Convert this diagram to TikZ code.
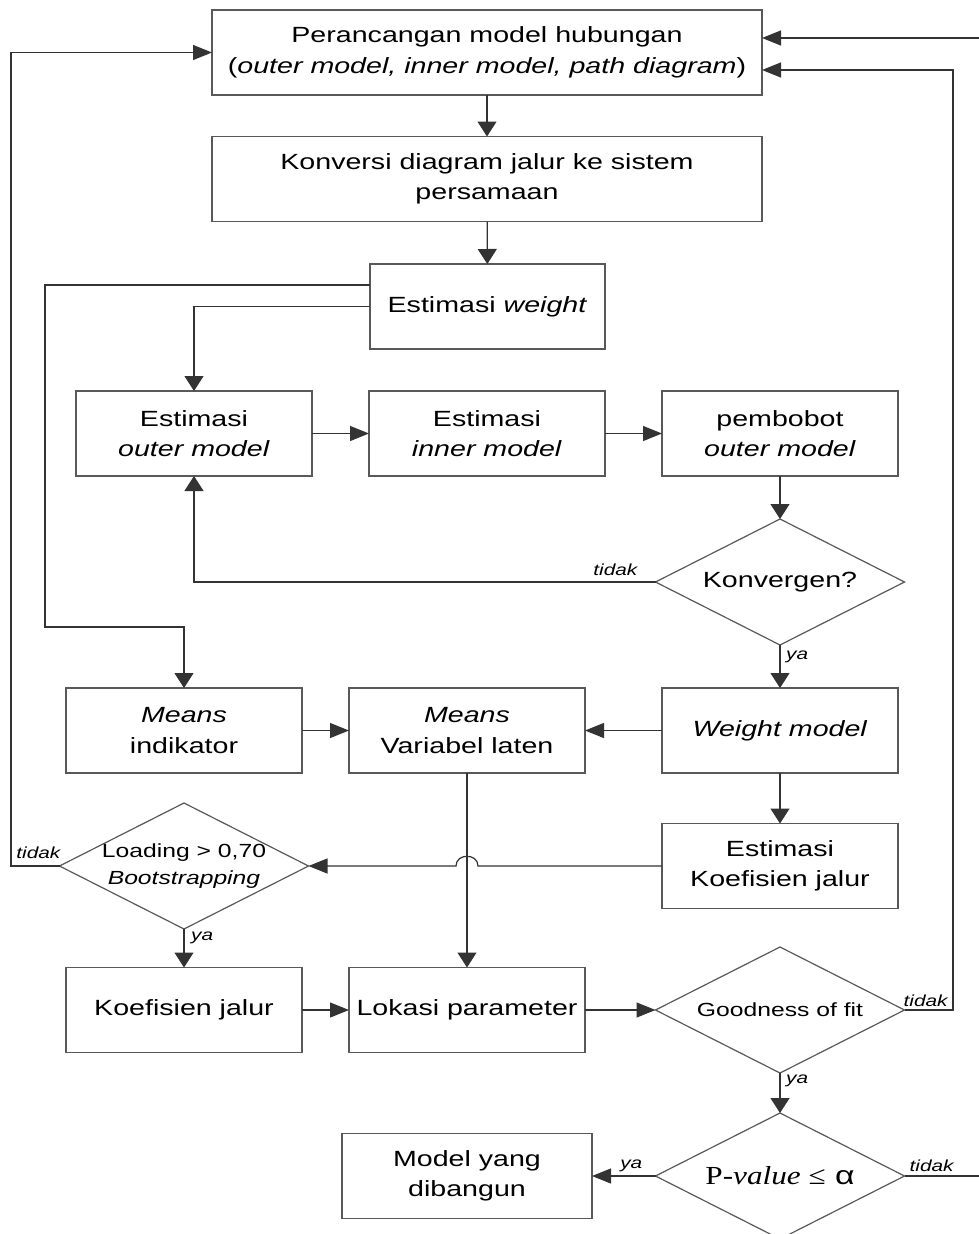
\documentclass[tikz,border=0pt]{standalone}
\usepackage{fontspec}
\setmainfont{Liberation Sans}[FakeStretch=1.3]
\newfontfamily\serifp{Liberation Serif}[FakeStretch=1.2]
\usetikzlibrary{arrows.meta,shapes.geometric}
\newcommand\myfs{\fontsize{22}{30.5}\selectfont}
\newcommand\mydfs{\fontsize{19}{27}\selectfont}
\newcommand\mypfs{\fontsize{26}{30}\selectfont}
\newcommand\mylf{\fontsize{16}{18}\selectfont\itshape}
\begin{document}
\begin{tikzpicture}[x=1pt,y=-1pt,
  conn/.style={draw=black!80, line width=1.2pt},
  va/.style={conn, -{Triangle[length=15pt,width=19pt]}},
  ha/.style={conn, -{Triangle[length=19pt,width=15pt]}},
  box/.style={draw=black!65, line width=1.2pt, minimum width=236pt, minimum height=85pt, inner sep=0pt, outer sep=0pt, align=center, font=\myfs},
  dia/.style={draw=black!65, line width=1.2pt, shape=diamond, minimum width=249pt, minimum height=126pt, inner sep=0pt, outer sep=0pt},
  lab/.style={font=\mylf, inner sep=1pt}
]
\useasboundingbox (0,0) rectangle (979,1234);
\clip (0,0) rectangle (979,1234);
\fill[white] (0,0) rectangle (979,1234);
% nodes
\node[box, minimum width=550pt] (b1) at (487,52.5) {Perancangan model hubungan\\(\textit{outer model, inner model, path diagram})};
\node[box, minimum width=550pt] (b2) at (487,179) {Konversi diagram jalur ke sistem\\persamaan};
\node[box, minimum width=235pt] (b3) at (487.5,306.5) {Estimasi \textit{weight}};
\node[box] (bA) at (194,433.5) {Estimasi\\\textit{outer model}};
\node[box] (bB) at (487,433.5) {Estimasi\\\textit{inner model}};
\node[box] (bC) at (780,433.5) {pembobot\\\textit{outer model}};
\node[dia, label={[font=\myfs]center:{Konvergen?}}] (dK) at (780,582) {};
\node[box] (bMI) at (184,730.5) {\textit{Means}\\indikator};
\node[box] (bMV) at (467,730.5) {\textit{Means}\\Variabel laten};
\node[box] (bW) at (780,730.5) {\textit{Weight model}};
\node[box] (bEK) at (780,866) {Estimasi\\Koefisien jalur};
\node[dia, label={[font=\mydfs,align=center]center:{Loading > 0,70\\\textit{Bootstrapping}}}] (dL) at (184,866) {};
\node[box] (bKJ) at (184,1010) {Koefisien jalur};
\node[box] (bLP) at (467,1010) {Lokasi parameter};
\node[dia, label={[font=\mydfs]center:{Goodness of fit}}] (dG) at (780,1010) {};
\node[dia, label={[font=\mypfs]center:{{\serifp P-\textit{value} ≤} α}}] (dP) at (780,1176) {};
\node[box, minimum width=250pt] (bM) at (467,1176) {Model yang\\dibangun};
% connectors
\draw[va] (b1) -- (b2);
\draw[va] (b2) -- (b3);
\draw[va] ([yshift=21.5pt]b3.west) -| (45,627) -| (bMI.north);
\draw[va] (b3.west) -| (bA.north);
\draw[ha] (bA) -- (bB);
\draw[ha] (bB) -- (bC);
\draw[va] (bC.south) -- (dK.north);
\draw[va] (dK.west) -| (bA.south);
\draw[va] (dK.south) -- (bW.north);
\draw[ha] (bMI) -- (bMV);
\draw[ha] (bW) -- (bMV);
\draw[va] (bMV) -- (bLP);
\draw[va] (bW) -- (bEK);
\coordinate (hop) at (bMV.south |- bEK.west);
\draw[ha] (bEK.west) -- ([xshift=11pt]hop) .. controls ([xshift=11pt,yshift=13pt]hop) and ([xshift=-11pt,yshift=13pt]hop) .. ([xshift=-11pt]hop) -- (dL.east);
\draw[ha] (dL.west) -| (11,300) |- (b1.west);
\draw[va] (dL.south) -- (bKJ.north);
\draw[ha] (bKJ) -- (bLP);
\draw[ha] (bLP) -- (dG.west);
\draw[ha] (dG.east) -| (953,500) |- ([yshift=-17.5pt]b1.east);
\draw[va] (dG.south) -- (dP.north);
\draw[ha] (dP.west) -- (bM.east);
\draw[ha] (dP.east) -| (990,500) |- ([yshift=14.5pt]b1.east);
% labels
\node[lab, anchor=south east] (l1) at ([xshift=-17pt,yshift=5pt]dK.west) {tidak};
\node[lab, anchor=north west] (l2) at ([xshift=5pt,yshift=-5pt]dK.south) {ya};
\node[lab, anchor=south east] (l3) at ([xshift=2pt,yshift=6pt]dL.west) {tidak};
\node[lab, anchor=north west] (l4) at ([xshift=6pt,yshift=-2pt]dL.south) {ya};
\node[lab, anchor=south west] (l5) at ([xshift=-2pt,yshift=2pt]dG.east) {tidak};
\node[lab, anchor=north west] (l6) at ([xshift=5pt,yshift=-1pt]dG.south) {ya};
\node[lab, anchor=south east] (l7) at ([xshift=-12pt,yshift=3pt]dP.west) {ya};
\node[lab, anchor=south west] (l8) at ([xshift=4pt,yshift=3pt]dP.east) {tidak};
\end{tikzpicture}
\end{document}
